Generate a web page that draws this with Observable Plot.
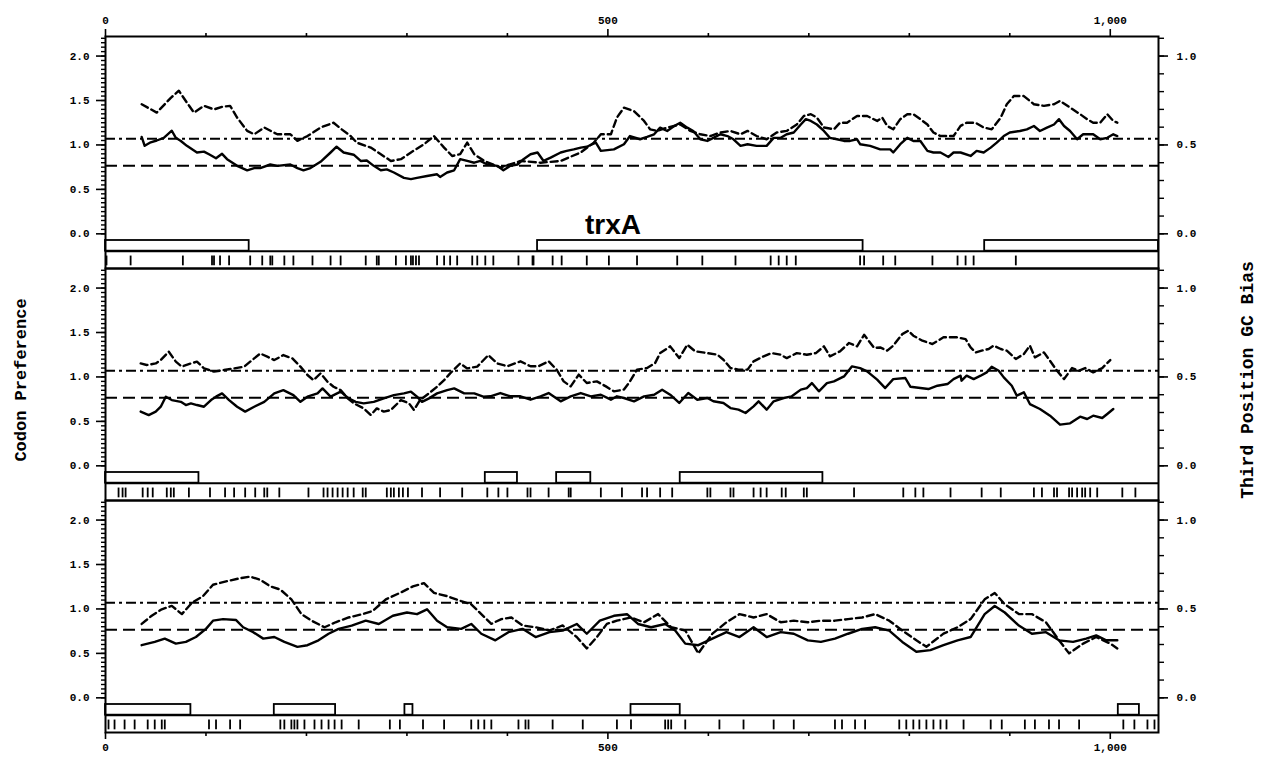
<!DOCTYPE html>
<html><head><meta charset="utf-8">
<script src="https://cdn.jsdelivr.net/npm/d3@7"></script>
<script src="https://cdn.jsdelivr.net/npm/@observablehq/plot@0.6"></script>
<style>
html,body{margin:0;padding:0;background:#fff;}
#wrap{position:relative;width:1271px;height:759px;overflow:hidden;}
#chart svg{display:block;}
.ytitle{position:absolute;font-family:"Liberation Mono",monospace;font-weight:bold;font-size:17px;white-space:nowrap;transform:translate(-50%,-50%) rotate(-90deg);color:#000;}
</style></head><body>
<div id="wrap"><div id="chart"></div>
<div class="ytitle" style="left:21px;top:380px;">Codon Preference</div>
<div class="ytitle" style="left:1248px;top:380px;font-size:18px;">Third Position GC Bias</div>
</div>
<script>
// ---- tick values ----
const majorX = [0, 500, 1000];
const minorX = [100, 200, 300, 400, 600, 700, 800, 900];
const majorY = [0, 0.5, 1.0, 1.5, 2.0];
const minorY = d3.range(0, 2.21, 0.05);
const gcMajor = [0, 0.5, 1.0];           // right axis (third position GC bias)
const gcMinor = d3.range(0, 1.11, 0.1);
const refDashDot = 1.07;                // reference levels (codon preference units)
const refDash = 0.765;

// ---- panel 1 (frame 1) ----
const cp1 = [[36,1.09],[39,0.99],[45,1.03],[51,1.05],[58,1.08],[66,1.16],[70,1.08],[75,1.045],[81,0.99],[91,0.915],[98,0.925],[103,0.895],[110,0.85],[116,0.90],[121,0.84],[131,0.765],[141,0.715],[148,0.74],[154,0.74],[164,0.78],[171,0.765],[184,0.78],[191,0.74],[197,0.715],[204,0.74],[214,0.81],[224,0.915],[230,0.98],[237,0.915],[247,0.89],[254,0.82],[260,0.825],[267,0.765],[274,0.715],[280,0.725],[287,0.69],[297,0.63],[304,0.615],[310,0.63],[320,0.65],[330,0.67],[333,0.64],[340,0.69],[347,0.715],[353,0.84],[360,0.82],[367,0.80],[373,0.82],[380,0.78],[390,0.765],[396,0.715],[403,0.765],[410,0.78],[416,0.84],[423,0.895],[430,0.915],[436,0.82],[443,0.857],[453,0.915],[459,0.933],[466,0.95],[473,0.97],[479,0.98],[488,1.026],[493,0.933],[506,0.95],[516,1.008],[522,1.10],[532,1.064],[539,1.09],[546,1.12],[552,1.195],[559,1.157],[566,1.213],[572,1.25],[579,1.195],[585,1.157],[592,1.064],[599,1.045],[605,1.08],[612,1.12],[619,1.10],[625,1.064],[632,0.99],[639,1.008],[648,0.99],[658,0.99],[665,1.08],[672,1.08],[678,1.12],[685,1.14],[692,1.23],[697,1.29],[702,1.27],[708,1.23],[715,1.157],[721,1.08],[728,1.064],[735,1.045],[741,1.045],[748,1.064],[751,1.008],[761,0.99],[771,0.95],[781,0.95],[784,0.915],[791,1.008],[798,1.08],[804,1.045],[811,1.045],[818,0.933],[824,0.915],[831,0.915],[839,0.865],[844,0.915],[851,0.915],[861,0.876],[867,0.933],[874,0.915],[881,0.97],[887,1.026],[894,1.10],[900,1.14],[910,1.157],[917,1.176],[924,1.213],[930,1.157],[937,1.195],[944,1.23],[949,1.29],[954,1.213],[960,1.157],[967,1.064],[973,1.12],[983,1.12],[990,1.064],[997,1.08],[1003,1.12],[1007,1.10]];
const gc1 = [[36,0.729],[51,0.682],[65,0.765],[73,0.805],[81,0.738],[88,0.682],[98,0.72],[108,0.70],[116,0.714],[124,0.72],[131,0.654],[141,0.579],[148,0.56],[158,0.598],[171,0.56],[184,0.56],[191,0.523],[201,0.55],[214,0.598],[227,0.625],[235,0.588],[244,0.55],[250,0.513],[264,0.485],[274,0.448],[284,0.41],[294,0.42],[304,0.458],[317,0.504],[327,0.55],[337,0.485],[345,0.438],[353,0.448],[360,0.513],[367,0.448],[377,0.41],[393,0.373],[413,0.41],[433,0.40],[453,0.41],[473,0.458],[486,0.513],[493,0.56],[503,0.56],[509,0.654],[516,0.71],[526,0.69],[536,0.635],[542,0.588],[549,0.579],[559,0.598],[572,0.615],[582,0.579],[592,0.56],[602,0.55],[612,0.57],[622,0.579],[632,0.56],[639,0.579],[648,0.55],[658,0.532],[668,0.57],[678,0.579],[688,0.615],[695,0.663],[702,0.673],[708,0.654],[715,0.598],[725,0.588],[731,0.625],[738,0.625],[748,0.663],[758,0.663],[768,0.635],[773,0.654],[778,0.607],[784,0.588],[791,0.645],[798,0.673],[804,0.673],[811,0.645],[818,0.615],[824,0.57],[831,0.55],[838,0.55],[844,0.55],[851,0.607],[857,0.625],[866,0.625],[874,0.598],[882,0.588],[891,0.654],[897,0.729],[904,0.775],[914,0.775],[924,0.729],[934,0.72],[944,0.729],[950,0.748],[960,0.71],[970,0.673],[977,0.645],[983,0.625],[990,0.625],[997,0.673],[1003,0.635],[1007,0.625]];
const orf1 = [[0,143],[430,754],[875,1048]];
const rare1 = [1,25,77,106,108,114,123,144,156,164,166,178,187,206,224,234,259,270,272,289,299,304,306,309,312,330,337,343,350,365,370,378,386,411,425,426,445,454,479,501,529,569,594,627,662,670,678,687,751,755,774,786,823,848,856,864,906];

// ---- panel 2 (frame 2) ----
const cp2 = [[35,0.61],[43,0.571],[50,0.61],[55,0.665],[60,0.778],[66,0.74],[75,0.72],[80,0.684],[85,0.703],[91,0.684],[98,0.665],[105,0.74],[110,0.778],[116,0.815],[123,0.74],[131,0.665],[139,0.61],[148,0.665],[158,0.72],[168,0.815],[177,0.852],[187,0.796],[194,0.72],[201,0.778],[211,0.815],[216,0.871],[224,0.778],[234,0.834],[242,0.759],[249,0.72],[257,0.703],[267,0.72],[277,0.759],[287,0.796],[297,0.815],[304,0.834],[310,0.778],[315,0.72],[322,0.759],[330,0.815],[340,0.852],[347,0.871],[357,0.815],[367,0.815],[376,0.778],[383,0.782],[393,0.819],[403,0.782],[413,0.782],[423,0.744],[433,0.782],[441,0.819],[453,0.726],[463,0.782],[473,0.819],[483,0.782],[493,0.80],[503,0.744],[509,0.782],[516,0.763],[526,0.726],[536,0.782],[546,0.80],[554,0.857],[562,0.80],[571,0.707],[580,0.819],[589,0.744],[599,0.763],[605,0.726],[615,0.707],[622,0.65],[630,0.632],[637,0.594],[645,0.669],[650,0.726],[658,0.632],[665,0.726],[675,0.763],[683,0.782],[692,0.857],[698,0.875],[703,0.931],[710,0.838],[718,0.931],[725,0.95],[735,1.006],[743,1.119],[751,1.10],[758,1.063],[768,0.969],[776,0.875],[784,0.976],[796,0.988],[801,0.89],[811,0.875],[819,0.864],[828,0.901],[838,0.92],[844,0.976],[851,1.014],[852,0.958],[857,1.014],[864,0.976],[871,1.014],[877,1.051],[882,1.115],[889,1.07],[894,0.995],[902,0.901],[907,0.789],[914,0.827],[920,0.695],[930,0.639],[940,0.564],[950,0.463],[960,0.478],[970,0.553],[977,0.527],[983,0.564],[992,0.538],[997,0.583],[1003,0.639]];
const gc2 = [[35,0.576],[41,0.567],[50,0.576],[55,0.595],[63,0.642],[70,0.586],[76,0.558],[85,0.576],[91,0.586],[98,0.548],[108,0.53],[118,0.539],[128,0.548],[138,0.558],[144,0.586],[154,0.632],[161,0.614],[168,0.595],[177,0.623],[186,0.604],[194,0.558],[201,0.511],[207,0.482],[214,0.52],[221,0.473],[227,0.445],[234,0.426],[241,0.38],[247,0.352],[257,0.323],[264,0.286],[270,0.323],[277,0.305],[284,0.314],[294,0.37],[302,0.352],[307,0.314],[313,0.37],[322,0.408],[330,0.445],[337,0.482],[343,0.52],[353,0.576],[360,0.548],[370,0.558],[381,0.623],[390,0.576],[400,0.56],[413,0.588],[423,0.56],[431,0.56],[441,0.588],[449,0.541],[456,0.475],[463,0.447],[471,0.513],[479,0.466],[489,0.475],[498,0.447],[506,0.419],[516,0.429],[522,0.475],[529,0.541],[539,0.55],[547,0.578],[552,0.634],[562,0.672],[571,0.606],[579,0.681],[587,0.644],[599,0.634],[609,0.625],[615,0.597],[622,0.55],[630,0.541],[639,0.541],[645,0.588],[655,0.616],[663,0.634],[672,0.625],[678,0.606],[688,0.634],[698,0.625],[707,0.634],[715,0.672],[721,0.616],[731,0.644],[740,0.691],[748,0.672],[755,0.737],[765,0.663],[771,0.666],[778,0.648],[784,0.676],[793,0.741],[799,0.76],[804,0.732],[813,0.704],[823,0.685],[834,0.723],[847,0.723],[856,0.713],[861,0.666],[866,0.638],[872,0.648],[879,0.657],[884,0.676],[891,0.657],[897,0.648],[906,0.601],[914,0.629],[920,0.676],[925,0.61],[934,0.638],[940,0.591],[947,0.535],[954,0.488],[962,0.55],[969,0.535],[975,0.55],[983,0.526],[992,0.55],[1000,0.595]];
const orf2 = [[0,93],[378,410],[449,483],[572,714]];
const rare2 = [13,17,20,37,42,47,61,65,68,83,104,119,128,139,149,158,161,173,202,217,221,226,231,236,241,247,256,259,280,284,287,292,296,301,315,333,355,380,391,400,420,423,441,461,463,493,514,534,539,552,564,599,602,622,625,645,652,658,673,677,695,698,745,794,806,814,841,872,891,924,932,944,947,959,962,967,972,975,980,987,1012,1025];

// ---- panel 3 (frame 3) ----
const cp3 = [[36,0.592],[49,0.629],[59,0.666],[70,0.61],[80,0.629],[90,0.684],[100,0.776],[107,0.868],[117,0.886],[130,0.875],[137,0.794],[147,0.739],[157,0.666],[168,0.684],[178,0.629],[191,0.574],[201,0.592],[212,0.647],[222,0.721],[232,0.776],[245,0.813],[259,0.868],[272,0.831],[286,0.923],[300,0.96],[310,0.941],[320,0.996],[330,0.868],[340,0.794],[354,0.776],[364,0.831],[374,0.721],[388,0.647],[401,0.739],[415,0.776],[428,0.684],[442,0.739],[455,0.757],[469,0.831],[479,0.721],[492,0.868],[506,0.923],[519,0.941],[530,0.831],[543,0.794],[557,0.831],[567,0.757],[577,0.61],[590,0.592],[604,0.666],[618,0.739],[631,0.684],[645,0.794],[658,0.684],[672,0.739],[685,0.721],[699,0.647],[712,0.629],[726,0.666],[739,0.721],[753,0.776],[766,0.794],[780,0.757],[793,0.629],[807,0.519],[821,0.537],[834,0.592],[848,0.647],[861,0.684],[875,0.941],[885,1.033],[895,0.96],[909,0.813],[922,0.721],[936,0.739],[949,0.647],[963,0.629],[976,0.666],[986,0.702],[996,0.647],[1007,0.647]];
const gc3 = [[36,0.416],[46,0.462],[56,0.498],[66,0.517],[76,0.471],[86,0.535],[97,0.572],[107,0.636],[120,0.655],[134,0.673],[144,0.682],[154,0.664],[164,0.627],[174,0.609],[185,0.554],[195,0.471],[205,0.434],[218,0.397],[229,0.425],[242,0.452],[256,0.471],[266,0.489],[279,0.554],[293,0.59],[306,0.627],[317,0.645],[327,0.59],[340,0.572],[354,0.544],[364,0.526],[374,0.471],[384,0.416],[394,0.443],[404,0.452],[415,0.407],[428,0.397],[442,0.379],[455,0.407],[469,0.342],[479,0.278],[489,0.342],[499,0.416],[509,0.434],[523,0.452],[536,0.425],[550,0.471],[563,0.397],[577,0.379],[590,0.25],[604,0.361],[618,0.425],[631,0.471],[645,0.452],[658,0.471],[672,0.425],[685,0.434],[699,0.425],[712,0.434],[726,0.434],[739,0.443],[753,0.452],[766,0.471],[780,0.434],[793,0.379],[807,0.324],[817,0.287],[834,0.361],[848,0.397],[861,0.443],[875,0.554],[885,0.59],[895,0.526],[909,0.471],[922,0.471],[936,0.425],[949,0.324],[959,0.25],[973,0.305],[986,0.342],[1000,0.305],[1007,0.278]];
const orf3 = [[0,85],[168,229],[298,306],[523,572],[1008,1029]];
const rare3 = [3,9,19,29,42,49,56,59,103,110,124,134,174,178,185,188,191,198,208,215,222,228,235,252,283,293,316,337,364,371,377,384,411,418,421,445,475,509,523,557,560,563,577,611,635,665,685,726,733,746,756,790,797,804,810,817,824,831,837,854,881,892,915,925,939,949,969,1013,1024,1037,1044];

const geneNames = ["trxA"];
const geneFrames = [1];
const geneX = [505];

// ---- build tables ----
const cpRows = [cp1, cp2, cp3].flatMap((s, i) => s.map(([x, v]) => ({frame: i + 1, x, v})));
const gcRows = [gc1, gc2, gc3].flatMap((s, i) => s.map(([x, g]) => ({frame: i + 1, x, g})));
const orfRows = [orf1, orf2, orf3].flatMap((s, i) => s.map(([a, b]) => ({frame: i + 1, a, b})));
const rareRows = [rare1, rare2, rare3].flatMap((s, i) => s.map(x => ({frame: i + 1, x})));
const geneRows = geneNames.map((name, i) => ({name, frame: geneFrames[i], x: geneX[i]}));

const f1 = d3.format(".1f");
const plot = Plot.plot({
  width: 1271, height: 759,
  marginTop: 35, marginBottom: 27, marginLeft: 105, marginRight: 113,
  style: {fontFamily: "'Liberation Mono', monospace", fontSize: "11px", fontWeight: "bold", background: "#fff", color: "#000"},
  x: {domain: [0, 1048]},
  y: {domain: [-0.39, 2.22]},
  fy: {domain: [1, 2, 3], padding: 0, axis: null},
  marks: [
    Plot.ruleY([refDashDot], {stroke: "#000", strokeWidth: 2, strokeDasharray: "10,4,3,4"}),
    Plot.ruleY([refDash], {stroke: "#000", strokeWidth: 2, strokeDasharray: "12,6"}),
    Plot.ruleY([-0.195], {stroke: "#000", strokeWidth: 2}),
    Plot.rect(orfRows, {fy: "frame", x1: "a", x2: "b", y1: -0.195, y2: -0.075, fill: "none", stroke: "#000", strokeWidth: 1.8}),
    Plot.ruleX(rareRows, {fy: "frame", x: "x", y1: -0.25, y2: -0.36, stroke: "#000", strokeWidth: 1.8}),
    Plot.line(gcRows, {fy: "frame", x: "x", y: d => d.g * 2, stroke: "#000", strokeWidth: 2.4, strokeDasharray: "7,4"}),
    Plot.line(cpRows, {fy: "frame", x: "x", y: "v", stroke: "#000", strokeWidth: 2.4}),
    Plot.text(geneRows, {fy: "frame", x: "x", y: 0.1, text: "name", fontSize: 28, fontWeight: "bold", fontFamily: "'Liberation Sans', Arial, sans-serif", fill: "#000"}),
    Plot.frame({stroke: "#000", strokeWidth: 2}),
    Plot.axisX({anchor: "top", ticks: majorX, tickFormat: d3.format(","), tickSize: 8, tickPadding: 5, strokeWidth: 1.6, label: null}),
    Plot.axisX({anchor: "top", ticks: minorX, tickFormat: () => "", tickSize: 4, strokeWidth: 1.6, label: null}),
    Plot.axisX({anchor: "bottom", ticks: majorX, tickFormat: d3.format(","), tickSize: 7, tickPadding: 4, strokeWidth: 1.6, label: null}),
    Plot.axisX({anchor: "bottom", ticks: minorX, tickFormat: () => "", tickSize: 4, strokeWidth: 1.6, label: null}),
    Plot.axisY({anchor: "left", ticks: majorY, tickFormat: f1, tickSize: 9, tickPadding: 7, strokeWidth: 1.6, label: null}),
    Plot.axisY({anchor: "left", ticks: minorY, tickFormat: () => "", tickSize: 4, strokeWidth: 1.4, label: null}),
    Plot.axisY({anchor: "right", ticks: gcMajor.map(t => t * 2), tickFormat: d => f1(d / 2), tickSize: 9, tickPadding: 9, strokeWidth: 1.6, label: null}),
    Plot.axisY({anchor: "right", ticks: gcMinor.map(t => t * 2), tickFormat: () => "", tickSize: 5, strokeWidth: 1.4, label: null})
  ]
});
document.getElementById("chart").appendChild(plot);
</script>
</body></html>
